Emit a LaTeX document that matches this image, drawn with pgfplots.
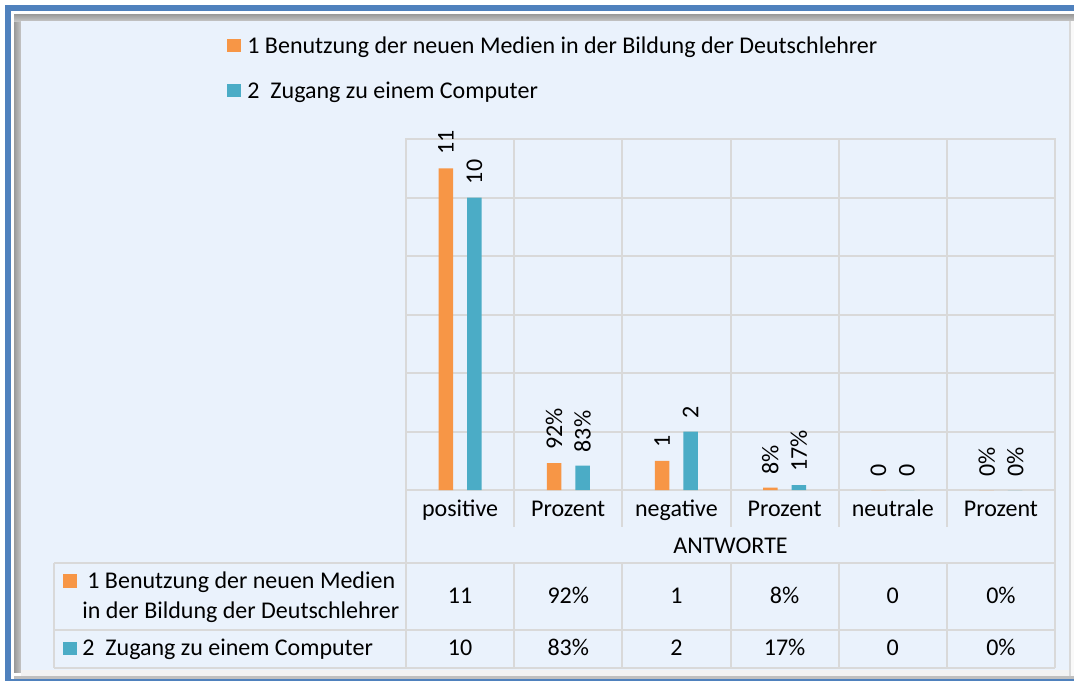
\documentclass[border=0pt]{standalone}
\usepackage{fontspec}
\setmainfont{Carlito}
\usepackage{graphicx}
\usepackage{pgfplots}
\pgfplotsset{compat=1.18}
\definecolor{bgblue}{HTML}{EAF2FC}
\definecolor{frameblue}{HTML}{4F81BD}
\definecolor{xorange}{HTML}{F79646}
\definecolor{xteal}{HTML}{4BACC6}
\definecolor{gridgray}{HTML}{D9D9D9}
\newcommand{\fs}{\fontsize{12}{15}\selectfont}
\begin{document}
\begin{tikzpicture}
\begin{scope}[x=0.5pt,y=-0.5pt]
\path[use as bounding box] (0,0) rectangle (1074,681);
\fill[white] (0,0) rectangle (1074,681);
% blue outer frame
\fill[frameblue] (5,5) rectangle (1074,11);
\fill[frameblue] (5,5) rectangle (11,681);
\fill[frameblue] (5,679) rectangle (1074,681);
% shadow frame
\fill[left color=gray!80, right color=gray!45] (14,14) rectangle (21,672);
\fill[top color=gray!80, bottom color=gray!45] (14,14) rectangle (1074,21);
\fill[gray!10] (21,670) rectangle (1074,676);
\fill[gray!50] (14,676) rectangle (1074,679);
\fill[gray!30] (1069,21) rectangle (1071,676);
\fill[gray!5] (1071,21) rectangle (1074,676);
\fill[bgblue] (21,21) rectangle (1069,670);
\end{scope}
\begin{axis}[
  at={(203pt,-245pt)}, anchor=south west,
  width=324.5pt, height=175.5pt, scale only axis,
  xmin=0, xmax=6, ymin=0, ymax=12,
  xtick={1,2,3,4,5}, xticklabels={},
  ytick={2,4,6,8,10}, yticklabels={},
  major tick length=0pt,
  xmajorgrids, ymajorgrids,
  grid style={gridgray, line width=1pt},
  axis line style={gridgray, line width=1pt},
  ybar=7pt, bar width=7.25pt,
  clip=false,
  point meta=explicit symbolic,
  nodes near coords={\rotatebox{90}{\pgfplotspointmeta}},
  every node near coord/.append style={font=\fs, text=black, anchor=south, inner xsep=0pt, inner ysep=6.5pt},
]
\addplot[fill=xorange, draw=none] coordinates {(0.5,11)[11] (1.5,0.92)[92\%] (2.5,1)[1] (3.5,0.08)[8\%] (4.5,0)[0] (5.5,0)[0\%]};
\addplot[fill=xteal, draw=none] coordinates {(0.5,10)[10] (1.5,0.83)[83\%] (2.5,2)[2] (3.5,0.17)[17\%] (4.5,0)[0] (5.5,0)[0\%]};
\end{axis}
\begin{scope}[x=0.5pt,y=-0.5pt, font=\fs]
% legend
\fill[xorange] (227,39) rectangle (241,52);
\node[anchor=base west, inner sep=0pt] at (247,53) {1 Benutzung der neuen Medien in der Bildung der Deutschlehrer};
\fill[xteal] (227,84) rectangle (241,97);
\node[anchor=base west, inner sep=0pt] at (247,98) {2\ \ Zugang zu einem Computer};
% table lines
\begin{scope}[draw=gridgray, line width=1pt]
\draw (406,490) -- (406,668);
\draw (1055,490) -- (1055,668);
\foreach \xx in {514.2,622.3,730.5,838.7,946.8} {
  \draw (\xx,490) -- (\xx,527);
  \draw (\xx,563) -- (\xx,668);
}
\draw (54,563) -- (1055,563);
\draw (54,630) -- (1055,630);
\draw (54,668) -- (1055,668);
\draw (54,563) -- (54,668);
\end{scope}
% tick labels
\foreach \xx/\lab in {460.1/positive,568.25/Prozent,676.4/negative,784.6/Prozent,892.75/neutrale,1000.9/Prozent} {
  \node[anchor=base, inner sep=0pt] at (\xx,516) {\lab};
}
\node[anchor=base, inner sep=0pt] at (730.5,553) {ANTWORTE};
% row 1
\fill[xorange] (63,574) rectangle (77,588);
\node[anchor=base west, inner sep=0pt] at (87,588) {1 Benutzung der neuen Medien};
\node[anchor=base west, inner sep=0pt] at (82,618) {in der Bildung der Deutschlehrer};
\foreach \xx/\lab in {460.1/11,568.25/92\%,676.4/1,784.6/8\%,892.75/0,1000.9/0\%} {
  \node[anchor=base, inner sep=0pt] at (\xx,603) {\lab};
}
% row 2
\fill[xteal] (63,642) rectangle (77,655);
\node[anchor=base west, inner sep=0pt] at (82,655) {2\ \ Zugang zu einem Computer};
\foreach \xx/\lab in {460.1/10,568.25/83\%,676.4/2,784.6/17\%,892.75/0,1000.9/0\%} {
  \node[anchor=base, inner sep=0pt] at (\xx,655) {\lab};
}
\end{scope}
\end{tikzpicture}
\end{document}
